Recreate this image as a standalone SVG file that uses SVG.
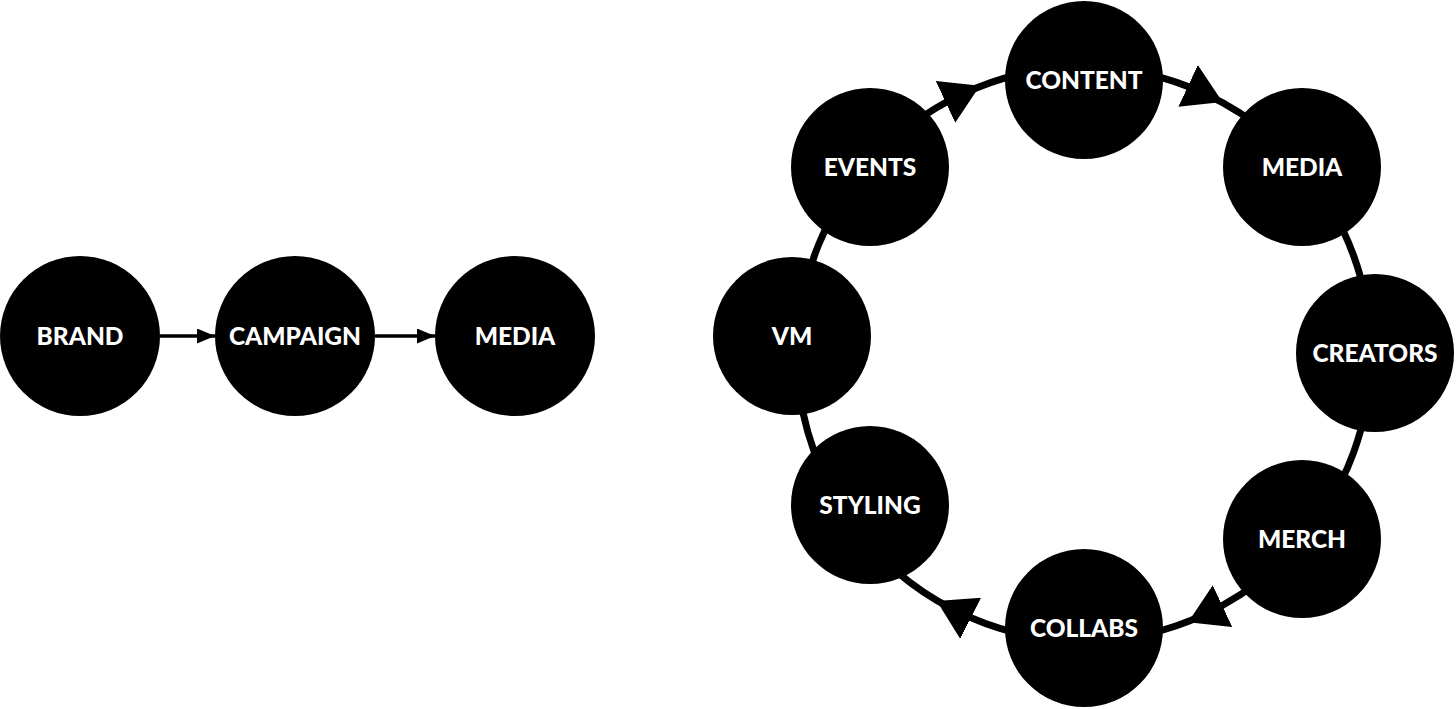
<svg xmlns="http://www.w3.org/2000/svg" width="1456" height="709" viewBox="0 0 1456 709">
<style>
.node circle{fill:#000}
.node text{fill:#fff;font-family:Lato,"Liberation Sans",sans-serif;font-weight:900;font-size:24.5px;text-anchor:middle;dominant-baseline:central}
.ring{fill:none;stroke:#000;stroke-width:7}
.flow{fill:none;stroke:#000;stroke-width:3.5}
</style>
<defs>
<marker id="big" markerUnits="userSpaceOnUse" viewBox="0 0 38 46" markerWidth="38" markerHeight="46" refX="19" refY="23" orient="auto"><path d="M0,0 L38,23 L0,46 Z" fill="#000"/></marker>
<marker id="small" markerUnits="userSpaceOnUse" viewBox="0 0 18 15" markerWidth="18" markerHeight="15" refX="18" refY="7.5" orient="auto"><path d="M0,0 L18,7.5 L0,15 Z" fill="#000"/></marker>
</defs>
<rect width="1456" height="709" fill="#fff"/>
<g id="connectors">
<path class="flow" d="M160,336 L215,336" marker-end="url(#small)"/>
<path class="flow" d="M375,336 L435,336" marker-end="url(#small)"/>
<path class="ring" d="M867.9,165.1 A287,287 0 0 1 962.7,93.9 A287,287 0 0 1 1084,67" marker-mid="url(#big)"/>
<path class="ring" d="M1084,67 A287,287 0 0 1 1205.3,93.9 A287,287 0 0 1 1301.9,167.2" marker-mid="url(#big)"/>
<path class="ring" d="M1301.9,167.2 A287,287 0 0 1 1371,354"/>
<path class="ring" d="M1371,354 A287,287 0 0 1 1302.9,539.6"/>
<path class="ring" d="M1302.9,539.6 A287,287 0 0 1 1205.3,614.1 A287,287 0 0 1 1084,641" marker-mid="url(#big)"/>
<path class="ring" d="M1084,641 A287,287 0 0 1 953.7,609.7 A287,287 0 0 1 849.5,519.4" marker-mid="url(#big)"/>
<path class="ring" d="M849.5,519.4 A287,287 0 0 1 797.5,336.5"/>
<path class="ring" d="M797.5,336.5 A287,287 0 0 1 867.9,165.1"/>
</g>
<g id="brand" class="node"><circle cx="80" cy="336" r="80"/><text x="80" y="335">BRAND</text></g>
<g id="campaign" class="node"><circle cx="295" cy="336" r="80"/><text x="295" y="335">CAMPAIGN</text></g>
<g id="media-left" class="node"><circle cx="515" cy="336" r="80"/><text x="515" y="335">MEDIA</text></g>
<g id="content" class="node"><circle cx="1084" cy="80" r="79"/><text x="1084" y="79">CONTENT</text></g>
<g id="media" class="node"><circle cx="1302" cy="167" r="79"/><text x="1302" y="166">MEDIA</text></g>
<g id="creators" class="node"><circle cx="1375" cy="353" r="79"/><text x="1375" y="352">CREATORS</text></g>
<g id="merch" class="node"><circle cx="1302" cy="539" r="79"/><text x="1302" y="538">MERCH</text></g>
<g id="collabs" class="node"><circle cx="1084" cy="628" r="79"/><text x="1084" y="627">COLLABS</text></g>
<g id="styling" class="node"><circle cx="870" cy="505" r="79"/><text x="870" y="504">STYLING</text></g>
<g id="vm" class="node"><circle cx="792" cy="336" r="79"/><text x="792" y="335">VM</text></g>
<g id="events" class="node"><circle cx="870" cy="167" r="79"/><text x="870" y="166">EVENTS</text></g>
</svg>
